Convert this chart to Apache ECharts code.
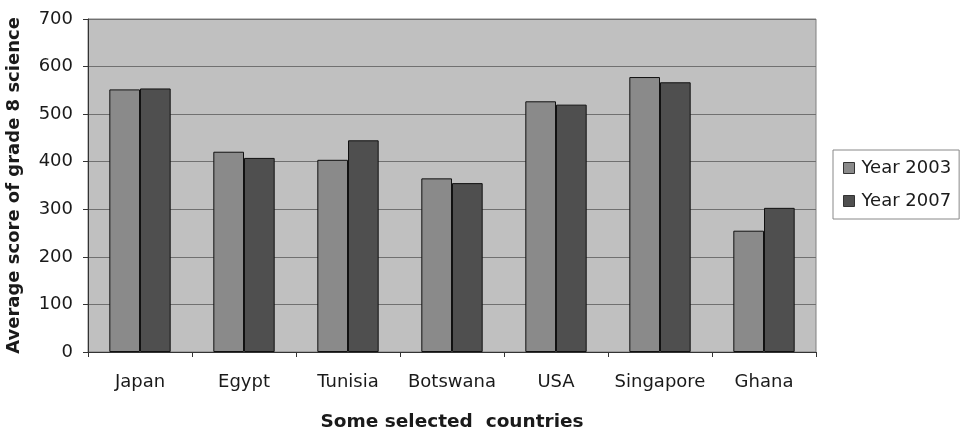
<!DOCTYPE html>
<html>
<head>
<meta charset="utf-8">
<script src="https://cdn.jsdelivr.net/npm/echarts@6/dist/echarts.min.js"></script>
<style>
  html, body { margin: 0; padding: 0; background: #fff; }
  #chart { width: 962px; height: 432px; }
</style>
</head>
<body>
<div id="chart"></div>
<script>
// 国家列表
const countries = ["Japan", "Egypt", "Tunisia", "Botswana", "USA", "Singapore", "Ghana"];
// 分数
const year2003 = [552, 421, 404, 365, 527, 578, 255];
const year2007 = [554, 408, 445, 355, 520, 567, 303];
const yTicks = [0, 100, 200, 300, 400, 500, 600, 700];

let chart = echarts.init(document.getElementById("chart"));

let option = {
  backgroundColor: "#fff",
  textStyle: { fontFamily: "DejaVu Sans, sans-serif" },
  animation: false,
  grid: {
    show: true,
    left: 88,
    right: 146,
    top: 19,
    bottom: 80,
    outerBoundsMode: "none",
    containLabel: false,
    backgroundColor: "#c0c0c0",
    borderColor: "#808080",
    borderWidth: 1
  },
  legend: {
    orient: "vertical",
    left: 833,
    top: 150,
    icon: "rect",
    itemWidth: 11,
    itemHeight: 11,
    itemGap: 15,
    itemStyle: { borderColor: "#333", borderWidth: 1 },
    padding: [9, 8, 9, 10],
    borderColor: "#888",
    borderWidth: 1,
    textStyle: { fontSize: 18, color: "#1a1a1a", padding: [0, 0, 0, 2] },
    data: ["Year 2003", "Year 2007"]
  },
  xAxis: {
    type: "category",
    data: countries,
    name: "Some selected  countries",
    nameLocation: "middle",
    nameGap: 61,
    nameTextStyle: { fontSize: 18.5, fontWeight: "bold", color: "#1a1a1a" },
    axisLine: { lineStyle: { color: "#333" } },
    axisTick: { show: true, length: 5, lineStyle: { color: "#333" } },
    axisLabel: { interval: 0, fontSize: 18, color: "#1a1a1a", margin: 21 }
  },
  yAxis: {
    type: "value",
    min: yTicks[0],
    max: yTicks[yTicks.length - 1],
    interval: 100,
    name: "Average score of grade 8 science",
    nameLocation: "middle",
    nameGap: 65,
    nameTextStyle: { fontSize: 18, fontWeight: "bold", color: "#1a1a1a", padding: [0, 0, 0, 0] },
    axisLine: { show: true, lineStyle: { color: "#333" } },
    axisTick: { show: true, length: 5, lineStyle: { color: "#333" } },
    axisLabel: { fontSize: 18, color: "#1a1a1a", margin: 15 },
    splitLine: { show: true, lineStyle: { color: "#707070", width: 1 } }
  },
  series: [
    {
      name: "Year 2003",
      type: "bar",
      data: year2003,
      barGap: "0%",
      barCategoryGap: "41%",
      itemStyle: { color: "#8a8a8a", borderColor: "#111", borderWidth: 1 }
    },
    {
      name: "Year 2007",
      type: "bar",
      data: year2007,
      itemStyle: { color: "#4f4f4f", borderColor: "#111", borderWidth: 1 }
    }
  ]
};

chart.setOption(option);
</script>
</body>
</html>
